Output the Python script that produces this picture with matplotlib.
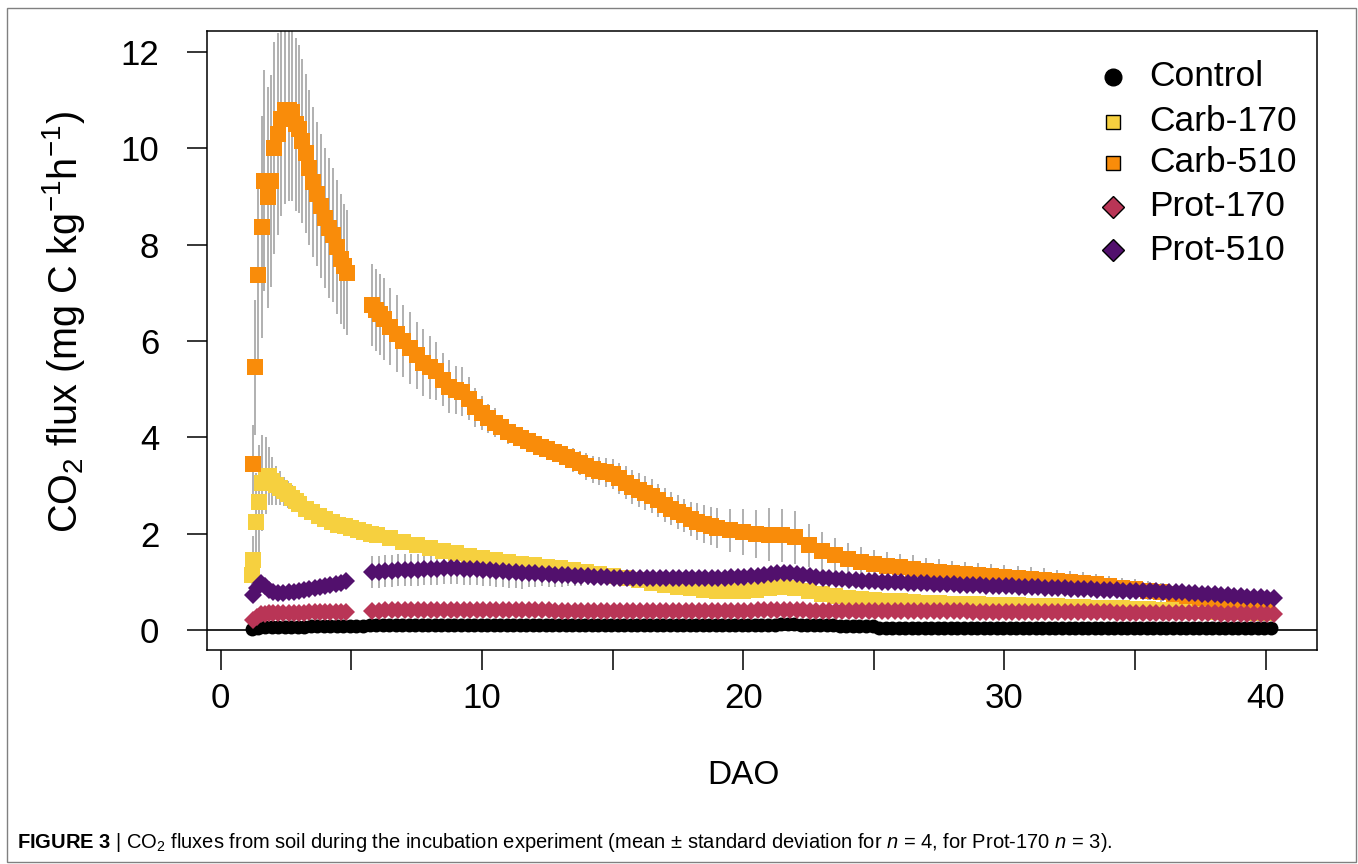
import matplotlib
matplotlib.use('Agg')
import matplotlib.pyplot as plt
from matplotlib.patches import Rectangle

plt.rcParams['font.family'] = ['Liberation Sans', 'DejaVu Sans']
plt.rcParams['mathtext.fontset'] = 'custom'
plt.rcParams['mathtext.rm'] = 'Liberation Sans'
plt.rcParams['mathtext.it'] = 'Liberation Sans:italic'
plt.rcParams['mathtext.bf'] = 'Liberation Sans:bold'

# ---- data (DAO = days after onset) ----
labels = ['Control', 'Carb-170', 'Carb-510', 'Prot-170', 'Prot-510']
colors = ['#000000', '#F6D03F', '#F98C0A', '#B93556', '#52106D']
err_color = '#B0B0B0'

control_day = [1.20, 1.45, 1.70, 1.95, 2.20, 2.45, 2.70, 2.95,
               3.20, 3.45, 3.70, 3.95, 4.20, 4.45, 4.70, 4.95,
               5.20, 5.45, 5.70, 5.95, 6.20, 6.45, 6.70, 6.95,
               7.20, 7.45, 7.70, 7.95, 8.20, 8.45, 8.70, 8.95,
               9.20, 9.45, 9.70, 9.95, 10.20, 10.45, 10.70, 10.95,
               11.20, 11.45, 11.70, 11.95, 12.20, 12.45, 12.70, 12.95,
               13.20, 13.45, 13.70, 13.95, 14.20, 14.45, 14.70, 14.95,
               15.20, 15.45, 15.70, 15.95, 16.20, 16.45, 16.70, 16.95,
               17.20, 17.45, 17.70, 17.95, 18.20, 18.45, 18.70, 18.95,
               19.20, 19.45, 19.70, 19.95, 20.20, 20.45, 20.70, 20.95,
               21.20, 21.45, 21.70, 21.95, 22.20, 22.45, 22.70, 22.95,
               23.20, 23.45, 23.70, 23.95, 24.20, 24.45, 24.70, 24.95,
               25.20, 25.45, 25.70, 25.95, 26.20, 26.45, 26.70, 26.95,
               27.20, 27.45, 27.70, 27.95, 28.20, 28.45, 28.70, 28.95,
               29.20, 29.45, 29.70, 29.95, 30.20, 30.45, 30.70, 30.95,
               31.20, 31.45, 31.70, 31.95, 32.20, 32.45, 32.70, 32.95,
               33.20, 33.45, 33.70, 33.95, 34.20, 34.45, 34.70, 34.95,
               35.20, 35.45, 35.70, 35.95, 36.20, 36.45, 36.70, 36.95,
               37.20, 37.45, 37.70, 37.95, 38.20, 38.45, 38.70, 38.95,
               39.20, 39.45, 39.70, 39.95, 40.20]
control_mean = [0.03, 0.05, 0.06, 0.06, 0.07, 0.07, 0.07, 0.07,
                0.07, 0.08, 0.08, 0.08, 0.08, 0.08, 0.08, 0.09,
                0.09, 0.09, 0.10, 0.10, 0.10, 0.10, 0.10, 0.10,
                0.10, 0.10, 0.10, 0.10, 0.10, 0.10, 0.10, 0.10,
                0.10, 0.10, 0.10, 0.10, 0.10, 0.10, 0.10, 0.10,
                0.10, 0.10, 0.10, 0.10, 0.10, 0.10, 0.10, 0.10,
                0.10, 0.10, 0.10, 0.10, 0.10, 0.10, 0.10, 0.10,
                0.10, 0.10, 0.10, 0.10, 0.10, 0.10, 0.10, 0.10,
                0.10, 0.10, 0.10, 0.10, 0.10, 0.10, 0.10, 0.10,
                0.10, 0.10, 0.10, 0.10, 0.10, 0.10, 0.10, 0.10,
                0.11, 0.12, 0.12, 0.12, 0.11, 0.11, 0.10, 0.10,
                0.10, 0.10, 0.09, 0.09, 0.09, 0.09, 0.08, 0.08,
                0.05, 0.05, 0.05, 0.05, 0.05, 0.05, 0.05, 0.05,
                0.05, 0.05, 0.05, 0.05, 0.05, 0.05, 0.05, 0.05,
                0.05, 0.05, 0.05, 0.05, 0.05, 0.05, 0.05, 0.05,
                0.05, 0.05, 0.05, 0.05, 0.05, 0.05, 0.05, 0.05,
                0.05, 0.05, 0.05, 0.05, 0.05, 0.05, 0.05, 0.05,
                0.05, 0.05, 0.05, 0.05, 0.05, 0.05, 0.05, 0.05,
                0.05, 0.05, 0.05, 0.05, 0.05, 0.05, 0.05, 0.05,
                0.05, 0.05, 0.05, 0.05, 0.05]

carb170_day = [1.20, 1.25, 1.35, 1.47, 1.60, 1.72, 1.85, 1.98,
               2.12, 2.27, 2.42, 2.57, 2.72, 2.87, 3.00, 3.25,
               3.50, 3.75, 4.00, 4.25, 4.50, 4.75, 5.00, 5.25,
               5.50, 5.75, 6.00, 6.50, 7.00, 7.50, 8.00, 8.50,
               9.00, 9.50, 10.0, 10.5, 11.0, 11.5, 12.0, 12.5,
               13.0, 13.5, 14.0, 14.5, 15.0, 15.5, 16.0, 16.5,
               17.0, 17.5, 18.0, 18.5, 19.0, 19.5, 20.0, 20.5,
               21.0, 21.5, 22.0, 22.5, 23.0, 23.5, 24.0, 24.5,
               25.0, 25.5, 26.0, 26.5, 27.0, 27.5, 28.0, 28.5,
               29.0, 29.5, 30.0, 30.5, 31.0, 31.5, 32.0, 32.5,
               33.0, 33.5, 34.0, 34.5, 35.0, 35.5, 36.0, 36.5,
               37.0, 37.5, 38.0, 38.5, 39.0, 39.5, 40.0]
carb170_mean = [1.15, 1.45, 2.25, 2.65, 3.05, 3.20, 3.20, 3.10,
                3.00, 2.95, 2.88, 2.82, 2.75, 2.68, 2.62, 2.52,
                2.44, 2.36, 2.30, 2.24, 2.19, 2.15, 2.12, 2.08,
                2.04, 2.00, 1.97, 1.90, 1.83, 1.77, 1.71, 1.65,
                1.59, 1.54, 1.49, 1.45, 1.41, 1.37, 1.34, 1.31,
                1.28, 1.25, 1.21, 1.17, 1.13, 1.08, 1.03, 0.98,
                0.94, 0.90, 0.87, 0.84, 0.82, 0.81, 0.81, 0.83,
                0.87, 0.89, 0.87, 0.81, 0.75, 0.70, 0.66, 0.64,
                0.62, 0.61, 0.60, 0.59, 0.57, 0.56, 0.55, 0.54,
                0.53, 0.52, 0.52, 0.51, 0.50, 0.49, 0.49, 0.48,
                0.47, 0.46, 0.46, 0.45, 0.44, 0.43, 0.42, 0.41,
                0.40, 0.39, 0.38, 0.38, 0.37, 0.36, 0.36]
carb170_sd = [0.30, 0.50, 1.00, 1.20, 1.00, 0.80, 0.60, 0.50,
              0.40, 0.35, 0.30, 0.28, 0.25, 0.22, 0.20, 0.15,
              0.15, 0.15, 0.15, 0.15, 0.15, 0.15, 0.15, 0.15,
              0.15, 0.15, 0.15, 0.15, 0.15, 0.15, 0.15, 0.15,
              0.12, 0.12, 0.12, 0.12, 0.12, 0.12, 0.12, 0.12,
              0.10, 0.10, 0.10, 0.10, 0.10, 0.10, 0.10, 0.10,
              0.10, 0.10, 0.10, 0.10, 0.10, 0.10, 0.10, 0.10,
              0.10, 0.10, 0.10, 0.10, 0.10, 0.10, 0.10, 0.10,
              0.08, 0.08, 0.08, 0.08, 0.08, 0.08, 0.08, 0.08,
              0.08, 0.08, 0.08, 0.08, 0.08, 0.08, 0.08, 0.08,
              0.08, 0.08, 0.08, 0.08, 0.08, 0.08, 0.08, 0.08,
              0.08, 0.08, 0.08, 0.08, 0.08, 0.08, 0.08]

carb510_day = [1.24, 1.31, 1.45, 1.57, 1.66, 1.80, 1.93, 2.06,
               2.18, 2.30, 2.45, 2.60, 2.75, 2.90, 3.00, 3.10,
               3.25, 3.40, 3.55, 3.70, 3.85, 4.00, 4.15, 4.30,
               4.45, 4.60, 4.72, 4.84,
               5.80, 5.95, 6.10, 6.25, 6.50, 6.75, 7.00, 7.25,
               7.50, 7.75, 8.00, 8.25, 8.50, 8.75, 9.00, 9.25,
               9.50, 9.75, 10.00, 10.25, 10.50, 10.75, 11.00, 11.25,
               11.50, 11.75, 12.00, 12.25, 12.50, 12.75, 13.00, 13.25,
               13.50, 13.75, 14.00, 14.25, 14.50, 14.75, 15.00, 15.25,
               15.50, 15.75, 16.00, 16.25, 16.50, 16.75, 17.00, 17.25,
               17.50, 17.75, 18.00, 18.25, 18.50, 18.75, 19.00,
               19.5, 20.0, 20.5, 21.0, 21.5, 22.0, 22.5, 23.0,
               23.5, 24.0, 24.5, 25.0, 25.5, 26.0, 26.5, 27.0,
               27.5, 28.0, 28.5, 29.0, 29.5, 30.0, 30.5, 31.0,
               31.5, 32.0, 32.5, 33.0, 33.5, 34.0, 34.5, 35.0,
               35.5, 36.0, 36.5, 37.0, 37.5, 38.0, 38.5, 39.0,
               39.5, 40.0]
carb510_mean = [3.45, 5.45, 7.37, 8.37, 9.33, 8.98, 9.33, 10.00,
                10.30, 10.60, 10.80, 10.80, 10.75, 10.50, 10.40, 10.15,
                9.90, 9.60, 9.30, 9.05, 8.80, 8.55, 8.35, 8.20,
                7.95, 7.70, 7.55, 7.42,
                6.75, 6.65, 6.55, 6.45, 6.30, 6.15, 6.00, 5.85,
                5.70, 5.55, 5.45, 5.38, 5.20, 5.05, 4.98, 4.95,
                4.80, 4.62, 4.50, 4.40, 4.30, 4.22, 4.12, 4.05,
                3.98, 3.92, 3.86, 3.80, 3.75, 3.70, 3.65, 3.59,
                3.52, 3.46, 3.40, 3.34, 3.30, 3.27, 3.24, 3.15,
                3.06, 2.97, 2.91, 2.85, 2.78, 2.69, 2.60, 2.52,
                2.45, 2.38, 2.31, 2.25, 2.20, 2.16, 2.12,
                2.07, 2.03, 2.00, 1.98, 1.97, 1.93, 1.76, 1.63,
                1.55, 1.48, 1.42, 1.37, 1.33, 1.30, 1.27, 1.23,
                1.20, 1.18, 1.16, 1.14, 1.12, 1.10, 1.08, 1.06,
                1.04, 1.02, 1.00, 0.98, 0.95, 0.91, 0.88, 0.85,
                0.82, 0.78, 0.74, 0.70, 0.66, 0.62, 0.59, 0.56,
                0.53, 0.50]
carb510_sd = [0.80, 1.40, 2.00, 2.30, 2.30, 2.30, 2.20, 2.20,
              2.10, 2.00, 1.95, 1.90, 1.85, 1.80, 1.75, 1.70,
              1.65, 1.60, 1.55, 1.50, 1.50, 1.45, 1.45, 1.40,
              1.40, 1.35, 1.30, 1.30,
              0.85, 0.85, 0.85, 0.85, 0.80, 0.80, 0.75, 0.75,
              0.70, 0.70, 0.65, 0.60, 0.55, 0.55, 0.50, 0.50,
              0.45, 0.40, 0.35, 0.30, 0.30, 0.25, 0.25, 0.22,
              0.22, 0.20, 0.20, 0.20, 0.20, 0.20, 0.22, 0.22,
              0.25, 0.25, 0.28, 0.28, 0.30, 0.30, 0.32, 0.32,
              0.35, 0.35, 0.35, 0.35, 0.35, 0.35, 0.35, 0.35,
              0.35, 0.35, 0.35, 0.38, 0.40, 0.40, 0.42,
              0.45, 0.48, 0.50, 0.55, 0.55, 0.55, 0.45, 0.40,
              0.35, 0.32, 0.30, 0.30, 0.28, 0.28, 0.28, 0.27,
              0.27, 0.26, 0.26, 0.26, 0.25, 0.25, 0.25, 0.24,
              0.24, 0.23, 0.23, 0.22, 0.22, 0.21, 0.21, 0.20,
              0.20, 0.19, 0.18, 0.17, 0.16, 0.15, 0.14, 0.13,
              0.12, 0.11]

prot_day = [1.25, 1.40, 1.55, 1.70, 1.85, 2.00, 2.20, 2.40,
            2.60, 2.80, 3.00, 3.20, 3.40, 3.60, 3.80, 4.00,
            4.20, 4.40, 4.60, 4.80,
            5.80, 6.05, 6.30, 6.55, 6.80, 7.05, 7.30, 7.55,
            7.80, 8.05, 8.30, 8.55, 8.80, 9.05, 9.30, 9.55,
            9.80, 10.05, 10.30, 10.55, 10.80, 11.05, 11.30, 11.55,
            11.80, 12.05, 12.30, 12.55, 12.80, 13.05, 13.30, 13.55,
            13.80, 14.05, 14.30, 14.55, 14.80, 15.05, 15.30, 15.55,
            15.80, 16.05, 16.30, 16.55, 16.80, 17.05, 17.30, 17.55,
            17.80, 18.05, 18.30, 18.55, 18.80, 19.05, 19.30, 19.55,
            19.80, 20.05, 20.30, 20.55, 20.80, 21.05, 21.30, 21.55,
            21.80, 22.05, 22.30, 22.55, 22.80, 23.05, 23.30, 23.55,
            23.80, 24.05, 24.30, 24.55, 24.80, 25.05, 25.30, 25.55,
            25.80, 26.05, 26.30, 26.55, 26.80, 27.05, 27.30, 27.55,
            27.80, 28.05, 28.30, 28.55, 28.80, 29.05, 29.30, 29.55,
            29.80, 30.05, 30.30, 30.55, 30.80, 31.05, 31.30, 31.55,
            31.80, 32.05, 32.30, 32.55, 32.80, 33.05, 33.30, 33.55,
            33.80, 34.05, 34.30, 34.55, 34.80, 35.05, 35.30, 35.55,
            35.80, 36.05, 36.30, 36.55, 36.80, 37.05, 37.30, 37.55,
            37.80, 38.05, 38.30, 38.55, 38.80, 39.05, 39.30, 39.55,
            39.80, 40.05, 40.30]
prot170_mean = [0.20, 0.28, 0.33, 0.34, 0.35, 0.35, 0.35, 0.36,
                0.36, 0.36, 0.36, 0.36, 0.37, 0.37, 0.37, 0.37,
                0.37, 0.38, 0.38, 0.38,
                0.40, 0.40, 0.41, 0.41, 0.41, 0.41, 0.41, 0.42,
                0.42, 0.42, 0.42, 0.42, 0.42, 0.42, 0.41, 0.41,
                0.41, 0.41, 0.41, 0.41, 0.41, 0.41, 0.41, 0.41,
                0.41, 0.41, 0.41, 0.41, 0.40, 0.40, 0.40, 0.40,
                0.40, 0.40, 0.40, 0.40, 0.40, 0.40, 0.40, 0.40,
                0.40, 0.40, 0.40, 0.40, 0.40, 0.40, 0.40, 0.40,
                0.40, 0.40, 0.40, 0.40, 0.40, 0.40, 0.40, 0.40,
                0.40, 0.40, 0.40, 0.41, 0.41, 0.42, 0.42, 0.42,
                0.42, 0.41, 0.41, 0.40, 0.40, 0.40, 0.40, 0.40,
                0.40, 0.40, 0.39, 0.39, 0.39, 0.39, 0.39, 0.39,
                0.39, 0.39, 0.39, 0.39, 0.39, 0.39, 0.39, 0.39,
                0.39, 0.39, 0.39, 0.39, 0.38, 0.38, 0.38, 0.38,
                0.38, 0.38, 0.38, 0.38, 0.38, 0.38, 0.38, 0.38,
                0.38, 0.38, 0.37, 0.37, 0.37, 0.37, 0.37, 0.37,
                0.37, 0.37, 0.36, 0.36, 0.36, 0.36, 0.36, 0.36,
                0.36, 0.36, 0.35, 0.35, 0.35, 0.35, 0.35, 0.35,
                0.35, 0.35, 0.34, 0.34, 0.34, 0.34, 0.34, 0.33,
                0.33, 0.33, 0.33]
prot510_mean = [0.72, 0.88, 0.97, 0.92, 0.83, 0.79, 0.77, 0.77,
                0.78, 0.79, 0.81, 0.83, 0.85, 0.87, 0.89, 0.91,
                0.93, 0.95, 0.98, 1.01,
                1.20, 1.21, 1.22, 1.23, 1.24, 1.24, 1.25, 1.25,
                1.26, 1.27, 1.27, 1.28, 1.28, 1.28, 1.27, 1.27,
                1.26, 1.25, 1.24, 1.23, 1.22, 1.21, 1.20, 1.19,
                1.18, 1.18, 1.17, 1.16, 1.15, 1.15, 1.14, 1.13,
                1.12, 1.12, 1.11, 1.10, 1.10, 1.09, 1.09, 1.08,
                1.08, 1.08, 1.08, 1.08, 1.08, 1.07, 1.07, 1.07,
                1.07, 1.08, 1.08, 1.08, 1.08, 1.09, 1.09, 1.10,
                1.10, 1.11, 1.12, 1.13, 1.15, 1.17, 1.18, 1.19,
                1.18, 1.16, 1.14, 1.12, 1.10, 1.08, 1.07, 1.06,
                1.05, 1.04, 1.03, 1.02, 1.01, 1.01, 1.00, 1.00,
                0.99, 0.99, 0.98, 0.98, 0.97, 0.97, 0.96, 0.96,
                0.95, 0.95, 0.94, 0.94, 0.93, 0.93, 0.92, 0.92,
                0.92, 0.91, 0.91, 0.90, 0.90, 0.89, 0.89, 0.88,
                0.88, 0.87, 0.87, 0.86, 0.86, 0.85, 0.85, 0.84,
                0.84, 0.83, 0.83, 0.82, 0.82, 0.81, 0.81, 0.80,
                0.80, 0.79, 0.79, 0.78, 0.78, 0.77, 0.76, 0.75,
                0.75, 0.74, 0.73, 0.72, 0.71, 0.70, 0.69, 0.68,
                0.68, 0.67, 0.66]
prot510_sd = [0.15, 0.15, 0.15, 0.15, 0.15, 0.15, 0.15, 0.15,
              0.15, 0.15, 0.15, 0.15, 0.15, 0.15, 0.15, 0.15,
              0.15, 0.15, 0.15, 0.15,
              0.33, 0.33, 0.33, 0.33, 0.33, 0.33, 0.33, 0.33,
              0.33, 0.33, 0.33, 0.33, 0.33, 0.33, 0.33, 0.33,
              0.33, 0.33, 0.33, 0.33, 0.33, 0.33, 0.33, 0.33,
              0.28, 0.28, 0.26, 0.26, 0.25, 0.25, 0.22, 0.22,
              0.20, 0.18, 0.16, 0.15, 0.14, 0.13, 0.12, 0.12,
              0.12, 0.12, 0.12, 0.12, 0.12, 0.12, 0.12, 0.12,
              0.12, 0.12, 0.12, 0.12, 0.12, 0.12, 0.12, 0.12,
              0.12, 0.12, 0.12, 0.12, 0.12, 0.12, 0.12, 0.12,
              0.12, 0.12, 0.12, 0.12, 0.12, 0.12, 0.12, 0.12,
              0.12, 0.12, 0.12, 0.12, 0.12, 0.12, 0.12, 0.12,
              0.12, 0.12, 0.12, 0.12, 0.12, 0.12, 0.12, 0.12,
              0.12, 0.12, 0.12, 0.12, 0.12, 0.12, 0.12, 0.12,
              0.12, 0.12, 0.12, 0.12, 0.12, 0.12, 0.12, 0.12,
              0.12, 0.12, 0.12, 0.12, 0.12, 0.12, 0.12, 0.12,
              0.12, 0.12, 0.12, 0.12, 0.12, 0.12, 0.12, 0.12,
              0.12, 0.12, 0.12, 0.12, 0.12, 0.12, 0.12, 0.12,
              0.12, 0.12, 0.12, 0.12, 0.12, 0.12, 0.12, 0.12,
              0.12, 0.12, 0.12]

caption = (r'$\mathbf{FIGURE\ 3}$ | CO$_2$ fluxes from soil during the incubation '
           r'experiment (mean $\pm$ standard deviation for $n$ = 4, for Prot-170 $n$ = 3).')

# ---- figure ----
W, H = 1358, 864
fig = plt.figure(figsize=(W / 100, H / 100), dpi=100)
ax = fig.add_axes([207 / W, 1 - 650 / H, (1317 - 207) / W, (650 - 31) / H])

# error bars first (grey, no caps)
for d, m, s in [(carb170_day, carb170_mean, carb170_sd),
                (carb510_day, carb510_mean, carb510_sd),
                (prot_day, prot510_mean, prot510_sd)]:
    ax.errorbar(d, m, yerr=s, fmt='none', ecolor=err_color, elinewidth=1.4,
                capsize=0, zorder=1)

ax.axhline(0, color='black', lw=1.2, zorder=1.5)

ax.plot(control_day, control_mean, ls='none', marker='o', ms=10,
        color=colors[0], mew=0, zorder=2)
ax.plot(carb170_day, carb170_mean, ls='none', marker='s', ms=11.5,
        color=colors[1], mew=0, zorder=3)
ax.plot(carb510_day, carb510_mean, ls='none', marker='s', ms=11.5,
        color=colors[2], mew=0, zorder=4)
ax.plot(prot_day, prot170_mean, ls='none', marker='D', ms=9.5,
        color=colors[3], mew=0, zorder=5)
ax.plot(prot_day, prot510_mean, ls='none', marker='D', ms=9.5,
        color=colors[4], mew=0, zorder=6)

ax.set_xlim(-0.52, 41.96)
ax.set_ylim(-0.415, 12.435)
ax.set_xticks([0, 5, 10, 15, 20, 25, 30, 35, 40])
ax.set_xticklabels(['0', '', '10', '', '20', '', '30', '', '40'])
ax.set_yticks([0, 2, 4, 6, 8, 10, 12])
ax.tick_params(axis='both', direction='out', length=14.4, width=1.1,
               labelsize=25, color='black')
ax.tick_params(axis='x', pad=9)
ax.tick_params(axis='y', pad=20)
for sp in ax.spines.values():
    sp.set_linewidth(1.1)

# legend (no frame)
leg_marker = ['o', 's', 's', 'D', 'D']
leg_ms = [12, 10, 10, 11, 11]
leg_y = [0.926, 0.853, 0.787, 0.716, 0.646]
for lab, c, mk, ms, y in zip(labels, colors, leg_marker, leg_ms, leg_y):
    ax.plot([0.816], [y], marker=mk, ms=ms, color=c, mec='black', mew=1,
            transform=ax.transAxes, clip_on=False, zorder=10)
    ax.text(0.849, y, lab, transform=ax.transAxes, fontsize=25.5,
            ha='left', va='center', zorder=10)

fig.text(743 / W, 1 - 775 / H, 'DAO', fontsize=24, ha='center', va='center')
fig.text(64 / W, 1 - 322 / H, r'CO$_2$ flux (mg C kg$^{-1}$h$^{-1}$)',
         fontsize=28.5, rotation=90, ha='center', va='center')

fig.text(17 / W, 1 - 843 / H, caption, fontsize=14.5, ha='left', va='center')

fig.patches.append(Rectangle((7 / W, 1 - 862 / H), (1356 - 7) / W, (862 - 8) / H,
                             transform=fig.transFigure, fill=False,
                             edgecolor='#808080', lw=1))

fig.savefig('out.png', dpi=100)
